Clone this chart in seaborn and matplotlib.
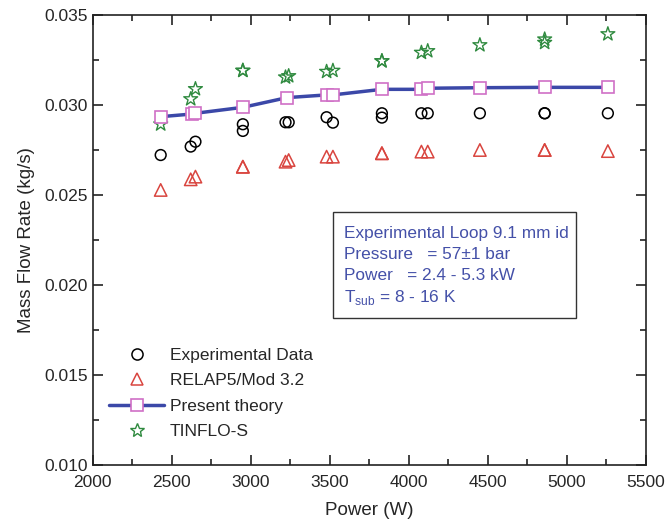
import matplotlib
matplotlib.use("Agg")
import matplotlib.pyplot as plt
import seaborn as sns
import pandas as pd
from matplotlib.patches import Rectangle
from matplotlib.lines import Line2D
from matplotlib.ticker import MultipleLocator

power = [2430, 2620, 2650, 2950, 2950, 3220, 3240, 3480, 3520, 3830, 3830,
         4080, 4120, 4450, 4860, 4860, 5260]
experimental = [0.02722, 0.02769, 0.02796, 0.02893, 0.02856, 0.02904, 0.02904,
                0.02932, 0.02902, 0.02954, 0.02930, 0.02954, 0.02954, 0.02954,
                0.02954, 0.02954, 0.02954]
relap = [0.02528, 0.02587, 0.02602, 0.02657, 0.02657, 0.02685, 0.02694, 0.02713,
         0.02713, 0.02732, 0.02732, 0.02741, 0.02741, 0.02750, 0.02750, 0.02750,
         0.02744]
theory_power = [2430, 2630, 2650, 2950, 3230, 3480, 3520, 3830, 4080, 4120,
                4450, 4860, 5260]
theory = [0.02935, 0.02950, 0.02954, 0.02987, 0.03041, 0.03056, 0.03056,
          0.03087, 0.03087, 0.03093, 0.03096, 0.03098, 0.03098]
tinflo = [0.02893, 0.03033, 0.03089, 0.03191, 0.03191, 0.03154, 0.03161, 0.03185,
          0.03191, 0.03244, 0.03244, 0.03291, 0.03300, 0.03333, 0.03365, 0.03346,
          0.03394]

labels = ["Experimental Data", "RELAP5/Mod 3.2", "Present theory", "TINFLO-S"]
info_lines = ["Experimental Loop 9.1 mm id", "Pressure   = 57\u00b11 bar",
              "Power   = 2.4 - 5.3 kW", "T$_{\\mathregular{sub}}$ = 8 - 16 K"]

sns.set_style("ticks")
plt.rcParams['font.family'] = ['Liberation Sans', 'DejaVu Sans']

df = pd.DataFrame({"power": power, "exp": experimental, "relap": relap, "tinflo": tinflo})
dft = pd.DataFrame({"power": theory_power, "theory": theory})

fig = plt.figure(figsize=(6.72, 5.26), dpi=100)
ax = fig.add_axes([0.138, 0.116, 0.823, 0.8555])

black = "black"
red = "#d9453f"
blue = "#3b48a8"
pink = "#cf6fc6"
green = "#2f8a3f"
textblue = "#4450a8"

sns.scatterplot(data=df, x="power", y="exp", ax=ax, marker="o", s=60,
                facecolor="none", edgecolor=black, linewidth=1.1, zorder=3)
sns.scatterplot(data=df, x="power", y="relap", ax=ax, marker="^", s=80,
                facecolor="none", edgecolor=red, linewidth=1.1, zorder=3)
sns.lineplot(data=dft, x="power", y="theory", ax=ax, color=blue, linewidth=2.5,
             marker="s", markersize=8, markerfacecolor="white",
             markeredgecolor=pink, markeredgewidth=1.2, zorder=4)
sns.scatterplot(data=df, x="power", y="tinflo", ax=ax, marker="*", s=110,
                facecolor="none", edgecolor=green, linewidth=1.0, zorder=3)

ax.set_xlim(2000, 5500)
ax.set_ylim(0.010, 0.035)
ax.xaxis.set_major_locator(MultipleLocator(500))
ax.xaxis.set_minor_locator(MultipleLocator(250))
ax.yaxis.set_major_locator(MultipleLocator(0.005))
ax.yaxis.set_minor_locator(MultipleLocator(0.0025))
ax.yaxis.set_major_formatter(matplotlib.ticker.FormatStrFormatter('%.3f'))
ax.tick_params(which="both", direction="in", top=True, right=True, labelsize=12.5,
               color="#222222")
ax.tick_params(which="major", length=7, width=1.2)
ax.tick_params(which="minor", length=4, width=1.2)
ax.tick_params(axis="x", which="major", pad=7.5)
for sp in ax.spines.values():
    sp.set_linewidth(1.2)
    sp.set_color("#222222")
ax.set_xlabel("Power (W)", fontsize=13.5, labelpad=8.5)
ax.set_ylabel("Mass Flow Rate (kg/s)", fontsize=13.5, labelpad=7)

handles = [
    Line2D([], [], linestyle="none", marker="o", markersize=8, markerfacecolor="none",
           markeredgecolor=black, markeredgewidth=1.1),
    Line2D([], [], linestyle="none", marker="^", markersize=9, markerfacecolor="none",
           markeredgecolor=red, markeredgewidth=1.1),
    Line2D([], [], color=blue, linewidth=2.5, marker="s", markersize=8,
           markerfacecolor="white", markeredgecolor=pink, markeredgewidth=1.2),
    Line2D([], [], linestyle="none", marker="*", markersize=10, markerfacecolor="none",
           markeredgecolor=green, markeredgewidth=1.0),
]
ax.legend(handles, labels, loc="upper left", bbox_to_anchor=(0.008, 0.288),
          frameon=False, fontsize=12.5, handlelength=3.15, handletextpad=0.35,
          labelspacing=0.6, borderaxespad=0.3)

ax.add_patch(Rectangle((0.4345, 0.327), 0.4395, 0.235, transform=ax.transAxes,
                       fill=False, edgecolor="#333333", linewidth=1.0, zorder=5))
y0 = 0.514
for i, line in enumerate(info_lines):
    ax.text(0.455, y0 - i * 0.047, line, transform=ax.transAxes, fontsize=12.4,
            color=textblue, va="center", ha="left")

fig.savefig("out.png", dpi=100)
